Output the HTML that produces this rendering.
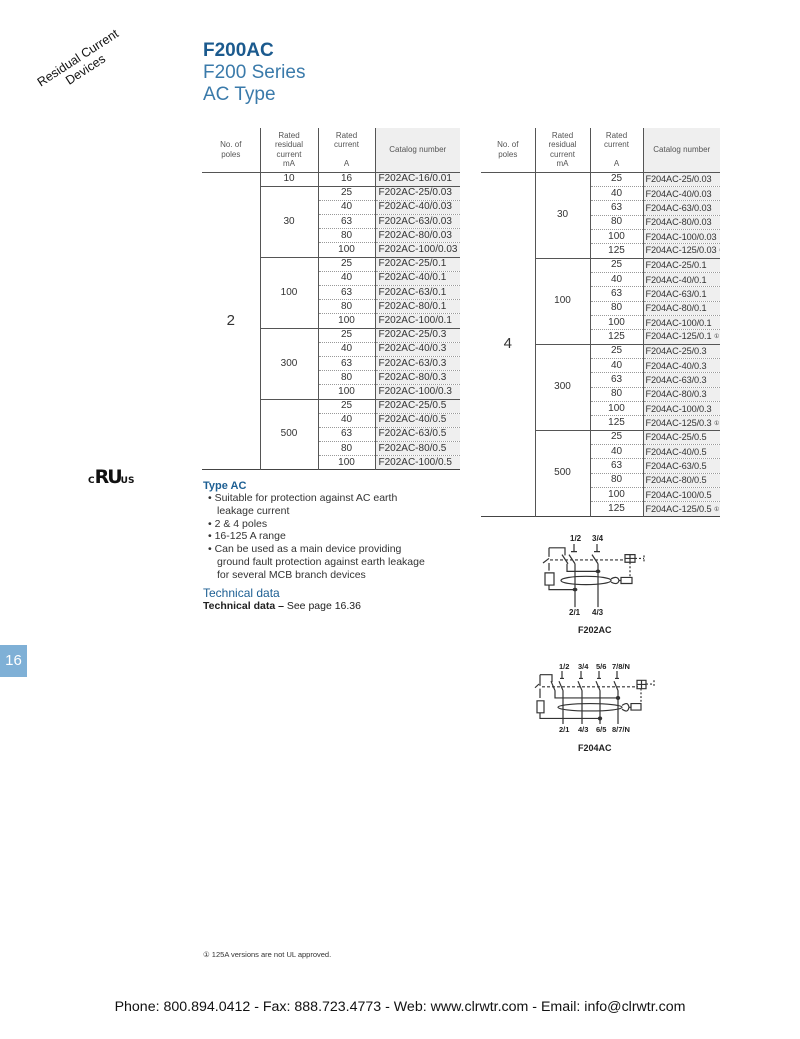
<!DOCTYPE html>
<html><head><meta charset="utf-8">
<style>
body{margin:0;width:800px;height:1039px;background:#fff;position:relative;font-family:"Liberation Sans",Arial,sans-serif;color:#222;overflow:hidden}
.abs{position:absolute}
table{border-collapse:collapse;position:absolute;table-layout:fixed}
td{padding:0;font-size:10px;line-height:12px;color:#333;white-space:nowrap;overflow:hidden}
th{font-weight:normal;font-size:8px;color:#555;line-height:9.5px;vertical-align:middle;text-align:center;padding:0}
th.cat{background:#efefef}
.h td{height:13.2px}
.r td{height:13.35px}
.r td.k{font-size:9.2px;letter-spacing:-0.1px;padding-left:2px}
td.c{text-align:center;border-top:1px dotted #999}
td.k{background:#efefef;padding-left:3px;border-top:1px dotted #999}
tr.g td.c,tr.g td.k{border-top:1px solid #555}
td.v{text-align:center;vertical-align:middle;border-top:1px solid #555}
.vl{border-left:1.5px solid #555}
sup.m{font-size:6px;vertical-align:1px}
</style></head><body>

<div class="abs" style="font-size:12.5px;color:#111;transform:rotate(-33deg);transform-origin:left top;line-height:14px;text-align:center;width:110px;left:28px;top:82px">Residual Current<br>Devices</div>

<div class="abs" style="left:203px;top:40px;font-size:19px;line-height:22px;color:#1d5f93">
<div style="font-weight:bold;color:#1b5a8e">F200AC</div>
<div style="color:#3a7aaa">F200 Series</div>
<div style="color:#3a7aaa">AC Type</div>
</div>

<!-- left table -->
<table class="h" style="left:202px;top:128px;width:258px">
<colgroup><col style="width:58px"><col style="width:58px"><col style="width:57px"><col style="width:85px"></colgroup>
<tr style="height:44px"><th>No. of<br>poles</th><th class="vl">Rated<br>residual<br>current<br>mA</th><th class="vl">Rated<br>current<br><br>A</th><th class="vl cat">Catalog number</th></tr>
<tr class="g"><td rowspan="21" class="v" style="font-size:15px">2</td><td class="v vl">10</td><td class="c vl">16</td><td class="k vl">F202AC-16/0.01</td></tr>
<tr class="g"><td rowspan="5" class="v vl">30</td><td class="c vl">25</td><td class="k vl">F202AC-25/0.03</td></tr>
<tr><td class="c vl">40</td><td class="k vl">F202AC-40/0.03</td></tr>
<tr><td class="c vl">63</td><td class="k vl">F202AC-63/0.03</td></tr>
<tr><td class="c vl">80</td><td class="k vl">F202AC-80/0.03</td></tr>
<tr><td class="c vl">100</td><td class="k vl">F202AC-100/0.03</td></tr>
<tr class="g"><td rowspan="5" class="v vl">100</td><td class="c vl">25</td><td class="k vl">F202AC-25/0.1</td></tr>
<tr><td class="c vl">40</td><td class="k vl">F202AC-40/0.1</td></tr>
<tr><td class="c vl">63</td><td class="k vl">F202AC-63/0.1</td></tr>
<tr><td class="c vl">80</td><td class="k vl">F202AC-80/0.1</td></tr>
<tr><td class="c vl">100</td><td class="k vl">F202AC-100/0.1</td></tr>
<tr class="g"><td rowspan="5" class="v vl">300</td><td class="c vl">25</td><td class="k vl">F202AC-25/0.3</td></tr>
<tr><td class="c vl">40</td><td class="k vl">F202AC-40/0.3</td></tr>
<tr><td class="c vl">63</td><td class="k vl">F202AC-63/0.3</td></tr>
<tr><td class="c vl">80</td><td class="k vl">F202AC-80/0.3</td></tr>
<tr><td class="c vl">100</td><td class="k vl">F202AC-100/0.3</td></tr>
<tr class="g"><td rowspan="5" class="v vl">500</td><td class="c vl">25</td><td class="k vl">F202AC-25/0.5</td></tr>
<tr><td class="c vl">40</td><td class="k vl">F202AC-40/0.5</td></tr>
<tr><td class="c vl">63</td><td class="k vl">F202AC-63/0.5</td></tr>
<tr><td class="c vl">80</td><td class="k vl">F202AC-80/0.5</td></tr>
<tr style="border-bottom:1.5px solid #444"><td class="c vl">100</td><td class="k vl">F202AC-100/0.5</td></tr>
</table>

<!-- right table -->
<table class="r" style="left:481px;top:128px;width:239px">
<colgroup><col style="width:54px"><col style="width:55px"><col style="width:53px"><col style="width:77px"></colgroup>
<tr style="height:44px"><th>No. of<br>poles</th><th class="vl">Rated<br>residual<br>current<br>mA</th><th class="vl">Rated<br>current<br><br>A</th><th class="vl cat">Catalog number</th></tr>
<tr class="g"><td rowspan="24" class="v" style="font-size:15px">4</td><td rowspan="6" class="v vl">30</td><td class="c vl">25</td><td class="k vl">F204AC-25/0.03</td></tr>
<tr><td class="c vl">40</td><td class="k vl">F204AC-40/0.03</td></tr>
<tr><td class="c vl">63</td><td class="k vl">F204AC-63/0.03</td></tr>
<tr><td class="c vl">80</td><td class="k vl">F204AC-80/0.03</td></tr>
<tr><td class="c vl">100</td><td class="k vl">F204AC-100/0.03</td></tr>
<tr><td class="c vl">125</td><td class="k vl">F204AC-125/0.03 <sup class="m">①</sup></td></tr>
<tr class="g"><td rowspan="6" class="v vl">100</td><td class="c vl">25</td><td class="k vl">F204AC-25/0.1</td></tr>
<tr><td class="c vl">40</td><td class="k vl">F204AC-40/0.1</td></tr>
<tr><td class="c vl">63</td><td class="k vl">F204AC-63/0.1</td></tr>
<tr><td class="c vl">80</td><td class="k vl">F204AC-80/0.1</td></tr>
<tr><td class="c vl">100</td><td class="k vl">F204AC-100/0.1</td></tr>
<tr><td class="c vl">125</td><td class="k vl">F204AC-125/0.1 <sup class="m">①</sup></td></tr>
<tr class="g"><td rowspan="6" class="v vl">300</td><td class="c vl">25</td><td class="k vl">F204AC-25/0.3</td></tr>
<tr><td class="c vl">40</td><td class="k vl">F204AC-40/0.3</td></tr>
<tr><td class="c vl">63</td><td class="k vl">F204AC-63/0.3</td></tr>
<tr><td class="c vl">80</td><td class="k vl">F204AC-80/0.3</td></tr>
<tr><td class="c vl">100</td><td class="k vl">F204AC-100/0.3</td></tr>
<tr><td class="c vl">125</td><td class="k vl">F204AC-125/0.3 <sup class="m">①</sup></td></tr>
<tr class="g"><td rowspan="6" class="v vl">500</td><td class="c vl">25</td><td class="k vl">F204AC-25/0.5</td></tr>
<tr><td class="c vl">40</td><td class="k vl">F204AC-40/0.5</td></tr>
<tr><td class="c vl">63</td><td class="k vl">F204AC-63/0.5</td></tr>
<tr><td class="c vl">80</td><td class="k vl">F204AC-80/0.5</td></tr>
<tr><td class="c vl">100</td><td class="k vl">F204AC-100/0.5</td></tr>
<tr style="border-bottom:1.5px solid #444"><td class="c vl">125</td><td class="k vl">F204AC-125/0.5 <sup class="m">①</sup></td></tr>
</table>

<!-- UL logo -->
<div class="abs" style="left:88px;top:466px;font-weight:bold;font-family:'DejaVu Sans',sans-serif;color:#111">
<span style="font-size:9px">C</span><span style="font-size:19px;letter-spacing:-2px">RU</span><span style="font-size:9px">US</span>
</div>

<div class="abs" style="left:203px;top:480px;width:230px">
<div style="font-size:11px;font-weight:bold;color:#1d5f93">Type AC</div>
<div style="font-size:10.5px;line-height:12.8px;color:#333;padding-left:5px">
<div style="padding-left:9px;text-indent:-9px">• Suitable for protection against AC earth leakage current</div>
<div style="padding-left:9px;text-indent:-9px">• 2 &amp; 4 poles</div>
<div style="padding-left:9px;text-indent:-9px">• 16-125 A range</div>
<div style="padding-left:9px;text-indent:-9px">• Can be used as a main device providing ground fault protection against earth leakage for several MCB branch devices</div>
</div>
<div style="font-size:12px;color:#1d5f93;margin-top:4px">Technical data</div>
<div style="font-size:10.5px;color:#222"><b>Technical data –</b> See page 16.36</div>
</div>

<div class="abs" style="left:0;top:645px;width:27px;height:32px;background:#7fb0d6;color:#fff;font-size:15px;line-height:32px;text-align:center">16</div>

<!-- diagrams -->
<svg class="abs" style="left:520px;top:525px" width="160" height="240" viewBox="0 0 160 240" font-family="Liberation Sans, Arial, sans-serif" font-weight="bold" font-size="8.5" fill="none" stroke="#333" stroke-width="1.2">
<text x="50" y="16" fill="#222" stroke="none" font-size="8">1/2</text>
<text x="72" y="16" fill="#222" stroke="none" font-size="8">3/4</text>
<g transform="translate(0,19) scale(1,0.76) translate(0,-19)">
<path vector-effect="non-scaling-stroke" d="M54 19v10M51 29h6M77 19v10M74 29h6"/>
<path vector-effect="non-scaling-stroke" d="M49 33l6 12M72 33l6 12M55 45v57M78 45v57"/>
<path vector-effect="non-scaling-stroke" d="M23 44l6-6M42 33l6 12M29 24h16v10M29 24v12"/>
<path vector-effect="non-scaling-stroke" d="M29 44v10M47 45v10h32"/>
<circle cx="78" cy="55" r="1.8" fill="#333"/>
<path vector-effect="non-scaling-stroke" d="M25 57h9v16h-9z"/>
<path vector-effect="non-scaling-stroke" d="M29 73v6h26"/>
<circle cx="55" cy="79" r="1.8" fill="#333"/>
<ellipse vector-effect="non-scaling-stroke" cx="66" cy="67" rx="25" ry="5.5"/>
<path vector-effect="non-scaling-stroke" d="M91 65c4-3 7-3 8 2c-1 5-4 5-8 2M99 67h2"/>
<path vector-effect="non-scaling-stroke" d="M101 63h11v8h-11z"/>
<path vector-effect="non-scaling-stroke" d="M30 40h75" stroke-dasharray="3 2"/>
<path vector-effect="non-scaling-stroke" d="M105 33h10v10h-10zM110 33v10M105 38h10"/>
<path vector-effect="non-scaling-stroke" d="M115 38h9M124 34v8M110 43v20" stroke-dasharray="2 2"/>
</g>
<text x="49" y="90" fill="#222" stroke="none" font-size="8">2/1</text>
<text x="72" y="90" fill="#222" stroke="none" font-size="8">4/3</text>
<text x="58" y="108" fill="#222" stroke="none" font-size="9">F202AC</text>

<g transform="translate(0,138)">
<text x="39" y="6" fill="#222" stroke="none" font-size="7.5">1/2</text>
<text x="58" y="6" fill="#222" stroke="none" font-size="7.5">3/4</text>
<text x="76" y="6" fill="#222" stroke="none" font-size="7.5">5/6</text>
<text x="92" y="6" fill="#222" stroke="none" font-size="7.5">7/8/N</text>
<g transform="translate(0,8) scale(1,0.93) translate(0,-8)">
<path d="M42 8v8M40 16h4M61 8v8M59 16h4M79 8v8M77 16h4M97 8v8M95 16h4"/>
<path d="M39 19l4 10M58 19l4 10M76 19l4 10M94 19l4 10M43 29v36M62 29v36M80 29v36M98 29v36"/>
<path d="M15 26l4-4M31 19l4 10M20 12h12v8M20 12v12M20 27v10M35 29v8h63"/>
<circle cx="98" cy="37" r="1.6" fill="#333"/>
<path d="M17 40h7v13h-7z M20 53v6h60"/>
<circle cx="80" cy="59" r="1.6" fill="#333"/>
<ellipse cx="70" cy="47" rx="32" ry="4"/>
<path d="M102 45c4-3 6-3 7 2c-1 5-3 5-7 2M109 47h2"/>
<path d="M111 43h10v7h-10z"/>
<path d="M22 25h96" stroke-dasharray="3 2"/>
<path d="M117 18h9v9h-9zM121.5 18v9M117 22.5h9"/>
<path d="M126 22h7M134 18v8M121 27v16" stroke-dasharray="2 2"/>
</g>
<text x="39" y="69" fill="#222" stroke="none" font-size="7.5">2/1</text>
<text x="58" y="69" fill="#222" stroke="none" font-size="7.5">4/3</text>
<text x="76" y="69" fill="#222" stroke="none" font-size="7.5">6/5</text>
<text x="92" y="69" fill="#222" stroke="none" font-size="7.5">8/7/N</text>
<text x="58" y="88" fill="#222" stroke="none" font-size="9">F204AC</text>
</g>
</svg>

<div class="abs" style="left:203px;top:950px;font-size:7.5px;color:#333">① 125A versions are not UL approved.</div>

<div class="abs" style="left:0;top:999px;width:800px;text-align:center;font-size:14.2px;color:#111">Phone: 800.894.0412 - Fax: 888.723.4773 - Web: www.clrwtr.com - Email: info@clrwtr.com</div>
</body></html>
